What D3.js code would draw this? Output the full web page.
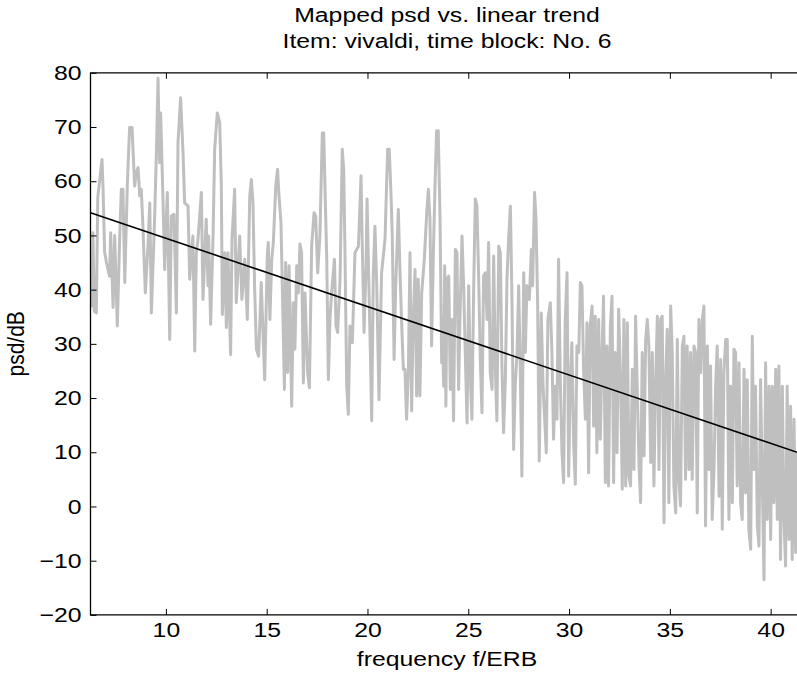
<!DOCTYPE html>
<html>
<head>
<meta charset="utf-8">
<script src="https://cdn.jsdelivr.net/npm/d3@7"></script>
<style>
  body { margin: 0; background: #fff; }
  svg text { font-family: "Liberation Sans", Arial, Helvetica, sans-serif; fill: #000; }
</style>
</head>
<body>
<svg width="797" height="679"></svg>
<script>
// psd trace in four stretches (frequency in ERB, level in dB)
const freqA = [6.26,6.30,6.33,6.38,6.45,6.55,6.62,6.83,6.88,6.96,
  7.05,7.20,7.26,7.38,7.46,7.59,7.71,7.79,7.87,7.96,
  8.09,8.20,8.32,8.45,8.53,8.62,8.70,8.78,8.86,8.98,
  9.11,9.20,9.28,9.44,9.53,9.61,9.69,9.74,9.86,9.94,
  10.07,10.19,10.27,10.40,10.52,10.60,10.73,10.85,10.93,11.10,
  11.18,11.34,11.43,11.51,11.59,11.76,11.84,12.00,12.09,12.12,
  12.22,12.34,12.42,12.55,12.67,12.75,12.80,12.92,13.00,13.08,
  13.21,13.28,13.41,13.49,13.66,13.77,13.91,14.04,14.16,14.24,
  14.32,14.40,14.49,14.60,14.73,14.90,15.03];
const psdA = [40,44,37,50.5,36,35.7,57,64,59,47,
  45,42.5,50.5,36.7,50,33.3,50,58.5,58.5,41.3,
  59.7,69.9,69.9,59.1,61.6,62.5,57.3,58.5,51.7,39.4,
  48,56,35.7,53,65.3,79,63.4,72.6,56,43.7,
  57.9,30.8,53.6,53.9,35.7,67.1,75.4,65.3,56,55.4,
  41.9,49.9,28.7,46.8,49.2,57.9,38.2,53,40.7,49.9,
  33.6,49.9,65.9,72.6,70.8,59.1,35.4,46.8,33,46.8,
  28,49.3,58.5,37.6,49.9,38.2,45.6,34.5,57.3,60.3,
  56,40.7,29,27.7,41.3,23.4,46.2];

const freqB = [15.08,15.16,15.25,15.33,15.45,15.54,15.61,15.71,15.83,15.88,
  15.94,16.04,16.11,16.24,16.32,16.40,16.49,16.57,16.65,16.73,
  16.82,16.90,17.03,17.12,17.23,17.35,17.43,17.53,17.64,17.76,
  17.83,17.89,17.98,18.06,18.14,18.22,18.36,18.44,18.52,18.64,
  18.75,18.82,18.88,18.97,19.05,19.13,19.25,19.38,19.55,19.68,
  19.74,19.83,19.93,19.98,20.07,20.14,20.21,20.29,20.37,20.46,
  20.57,20.70,20.87,21.00,21.08,21.17,21.23,21.32,21.40,21.53,
  21.61,21.70,21.78,21.86,21.94,22.03,22.11,22.19,22.27,22.36,
  22.44,22.52,22.60,22.69,22.82,22.94,23.02,23.10,23.18,23.27,
  23.35,23.43,23.51,23.60,23.68];
const psdB = [48.7,34.5,45.6,48.7,59.1,62.2,57.3,52.3,30.8,21.6,
  45,24.7,44.4,18.5,37.6,29,44.4,39.4,48.4,46.8,
  22.8,39.4,24.7,21.9,48,54.2,53.6,43.1,49.9,68.9,
  68.9,59.1,45.6,23.4,34.5,39.4,45.6,33.3,32.1,41.9,
  65.9,62.2,48,22.2,17,33.3,30.2,46.8,48,61,
  48.7,32.1,44.4,56.7,40.7,29,15.8,43.1,51.7,40.7,
  19.7,43.1,49.3,65.9,65.9,57.3,49.9,27.1,40.7,54.8,
  43.7,33.3,25.3,25.3,16.1,25.3,46.8,17.6,34.5,43.7,
  20.4,41.9,20.4,39.4,45.6,54.2,58.5,53,29.6,46.8,
  59.1,69.3,69.3,53,26.5];

const freqC = [23.70,23.78,23.83,23.89,23.94,24.03,24.11,24.19,24.27,24.36,
  24.44,24.52,24.61,24.69,24.77,24.85,24.94,25.02,25.10,25.18,
  25.27,25.35,25.43,25.51,25.60,25.68,25.76,25.85,25.93,26.01,
  26.09,26.18,26.26,26.34,26.42,26.51,26.59,26.67,26.75,26.84,
  26.92,27.00,27.09,27.17,27.25,27.33,27.42,27.50,27.58,27.66,
  27.75,27.83,27.91,28.03,28.13,28.19,28.29,28.36,28.44,28.52,
  28.62,28.71,28.79,28.87,28.95,29.07,29.15,29.23,29.32,29.40,
  29.48,29.57,29.65,29.73,29.81,29.90,29.98,30.06,30.14,30.23,
  30.31,30.39,30.48,30.56,30.64,30.72,30.81,30.89,30.97,31.05,
  31.14,31.22,31.30,31.38,31.47,31.55,31.63,31.71,31.80,31.88,
  31.96,32.05,32.13,32.21,32.29,32.38,32.46];
const psdC = [34.5,22.2,44.4,18.5,41.9,42.5,21.6,34.5,15.8,47.4,
  46.8,21.6,38.2,49.9,40.7,28.4,15.4,40.7,24.1,16.1,
  40.7,56.7,55.4,43.1,26.5,17.3,42.5,43.1,34.5,48.7,
  24.7,21.6,46.2,25.9,15.8,48,46.8,25.9,13.6,23.4,
  41.9,49.3,55.4,37.6,10.5,22.2,28.4,40.7,25.3,5.6,
  43.1,28.4,40.7,38.2,47.4,40.7,57.9,53,37.6,8.4,
  35.7,22.2,16.1,9.9,34.5,37.6,28.4,12.4,22.2,16.1,
  45.6,22.2,9.9,4.4,34.5,43.1,5.6,22.2,30.2,11.1,
  4.1,29.6,28.4,41.3,40.7,25.3,16.1,33.9,6.2,33.3,
  37,14.8,35.1,9.9,34.5,12.4,27.1,38.8,4.4,29.6,
  3.8,33.3,38.8,4.4,28.4,9.9,36.4];

const freqD = [32.56,32.64,32.72,32.81,32.89,32.97,33.05,33.14,33.22,33.30,
  33.38,33.47,33.55,33.63,33.72,33.80,33.88,33.96,34.05,34.13,
  34.21,34.29,34.38,34.46,34.54,34.62,34.71,34.79,34.87,34.95,
  35.04,35.12,35.20,35.29,35.37,35.45,35.53,35.62,35.70,35.78,
  35.86,35.95,36.03,36.11,36.20,36.28,36.36,36.44,36.53,36.61,
  36.69,36.77,36.86,36.94,37.02,37.10,37.19,37.27,37.35,37.44,
  37.52,37.60,37.68,37.77,37.85,37.93,38.01,38.10,38.18,38.26,
  38.34,38.43,38.51,38.59,38.68,38.76,38.84,38.92,39.01,39.09,
  39.17,39.25,39.34,39.42,39.50,39.59,39.67,39.75,39.83,39.92,
  40.00,40.08,40.16,40.25,40.33,40.41,40.49,40.58,40.66,40.74,
  40.82,40.91,40.99,41.07,41.16,41.24,41.31];
const psdD = [22.2,3.2,34.5,3.8,33.9,5.6,3.8,25.3,6.8,35.1,
  22.2,7.5,0.7,28.4,9.3,30.8,34.5,29.6,8.1,28.4,
  3.8,22.2,35.1,6.8,34.5,35.1,-3,23.4,32.7,0.7,
  37,28.4,3.8,-1.2,30.8,5,0.1,29.6,31.4,5,
  29.6,6.8,28.4,5,29.6,28.4,-1.2,34.5,24.7,34.5,
  37,-3.6,29.6,6.8,25.9,-2.4,6.8,22.2,29.6,1.9,
  27.1,-4.2,24.7,30.8,30.8,-2.4,22.2,0.7,29,28.4,
  3.8,26.5,0.7,-2.4,25.3,2.5,23.4,-4.2,-7.9,31.4,
  6.8,22.2,-3.6,-7.3,23.4,3.8,-13.5,26.5,-2.4,22.2,
  -6.1,22.2,0.7,25.3,-2.4,25.9,-9.8,22.2,-2.4,-11,
  22.2,-6.1,18.5,-9.8,16.1,-8.5,9.9];

// linear trend end points
const trendFreq = [6.26, 41.63];
const trendPsd = [54.2, 9.6];

const xTicks = [10, 15, 20, 25, 30, 35, 40];
const yTicks = [-20, -10, 0, 10, 20, 30, 40, 50, 60, 70, 80];

const freq = freqA.concat(freqB, freqC, freqD);
const psd = psdA.concat(psdB, psdC, psdD);

const svg = d3.select("svg");
const box = {left: 90.5, right: 803.5, top: 72.8, bottom: 614.9};
const fontSize = 21;
const stretch = 1.18;   // the picture's lettering is a little wider than Arial

const x = d3.scaleLinear().domain([6.26, 41.63]).range([box.left, box.right]);
const y = d3.scaleLinear().domain([-20, 80]).range([box.bottom, box.top]);

svg.append("clipPath").attr("id", "plotclip")
  .append("rect")
  .attr("x", box.left).attr("y", box.top)
  .attr("width", box.right - box.left).attr("height", box.bottom - box.top);

const plot = svg.append("g").attr("clip-path", "url(#plotclip)");

const line = d3.line()
  .x(d => x(d[0]))
  .y(d => y(d[1]));

plot.append("path")
  .datum(freq.map((f, i) => [f, psd[i]]))
  .attr("d", line)
  .attr("fill", "none")
  .attr("stroke", "#bfbfbf")
  .attr("stroke-width", 3)
  .attr("stroke-linejoin", "round");

plot.append("path")
  .datum(trendFreq.map((f, i) => [f, trendPsd[i]]))
  .attr("d", line)
  .attr("fill", "none")
  .attr("stroke", "#000")
  .attr("stroke-width", 1.6);

// axes, MATLAB style: ticks pointing inwards
const xAxis = svg.append("g")
  .attr("transform", `translate(0,${box.bottom})`)
  .call(d3.axisBottom(x).tickValues(xTicks).tickSize(-6).tickPadding(7));
const xTop = svg.append("g")
  .attr("transform", `translate(0,${box.top})`)
  .call(d3.axisTop(x).tickValues(xTicks).tickSize(-6).tickFormat(""));
const yAxis = svg.append("g")
  .attr("transform", `translate(${box.left},0)`)
  .call(d3.axisLeft(y).tickValues(yTicks).tickSize(-6).tickPadding(9));

[xAxis, xTop, yAxis].forEach(g => {
  g.select(".domain").remove();
  g.selectAll(".tick line").attr("stroke", "#000").attr("stroke-width", 1);
  g.selectAll(".tick text").attr("font-size", fontSize).attr("fill", "#000");
});
xAxis.selectAll(".tick text").attr("transform", `scale(${stretch},1)`);
yAxis.selectAll(".tick text")
  .attr("x", 0)
  .attr("transform", `translate(-9,0) scale(${stretch},1)`);

svg.append("path")
  .attr("d", `M${box.right + 2},${box.top}H${box.left}V${box.bottom}H${box.right + 2}`)
  .attr("fill", "none")
  .attr("stroke", "#000")
  .attr("stroke-width", 1.3);

// title and labels
function label(tx, ty, str, rotate) {
  svg.append("text")
    .attr("transform", rotate
      ? `translate(${tx},${ty}) rotate(-90) scale(1,${stretch})`
      : `translate(${tx},${ty}) scale(${stretch},1)`)
    .attr("text-anchor", "middle")
    .attr("font-size", fontSize)
    .text(str);
}
label(447, 22.3, "Mapped psd vs. linear trend");
label(447, 47.7, "Item: vivaldi, time block: No. 6");
label(447, 666, "frequency f/ERB");
label(24, (box.top + box.bottom) / 2, "psd/dB", true);

if (freq.length !== psd.length) {
  svg.append("text").attr("x", 400).attr("y", 300).attr("fill", "red")
    .text("length mismatch " + freq.length + " " + psd.length);
}
</script>
</body>
</html>
